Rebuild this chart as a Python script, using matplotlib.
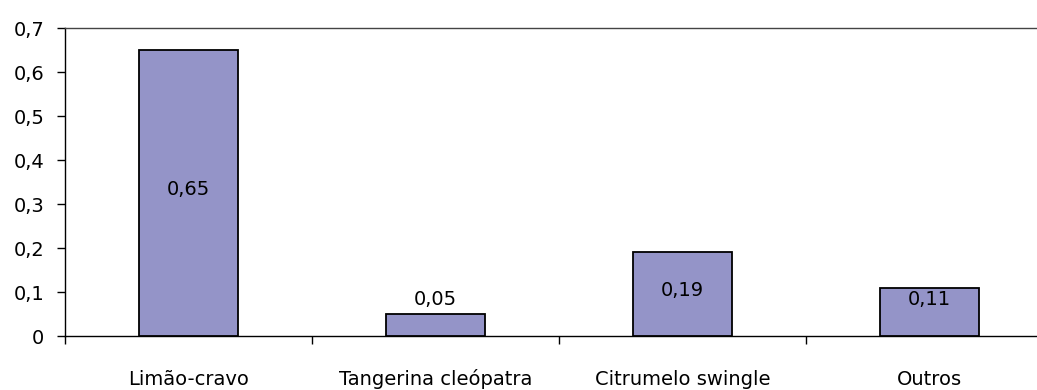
import matplotlib
matplotlib.use("Agg")
import matplotlib.pyplot as plt
from matplotlib.ticker import FixedLocator, FuncFormatter

categories = ["Limão-cravo", "Tangerina cleópatra", "Citrumelo swingle", "Outros"]
values = [0.65, 0.05, 0.19, 0.11]
yticks = [0, 0.1, 0.2, 0.3, 0.4, 0.5, 0.6, 0.7]

BARCOL = "#9494c8"
FS = 14

fig = plt.figure(figsize=(10.37, 3.9), dpi=100)
# plot area runs a bit past the right edge of the picture, like the original
ax = fig.add_axes([65/1037, 1-336/390, 988/1037, 308/390])

pos = [i + 0.5 for i in range(len(categories))]
ax.bar(pos, values, width=0.4, color=BARCOL, edgecolor="black", linewidth=1.3, zorder=3)

# value labels, in the bar middle, lifted a bit when the bar is short
for x, v in zip(pos, values):
    ly = max(v/2 + 0.008, 0.084)
    ax.text(x, ly, f"{v:.2f}".replace(".", ","), ha="center", va="center", fontsize=FS)

ax.set_xlim(0, len(categories))
ax.set_ylim(0, 0.7)
ax.set_yticks(yticks)
ax.yaxis.set_major_formatter(FuncFormatter(lambda v, p: "0" if v == 0 else f"{v:.1f}".replace(".", ",")))

# ticks at category borders, labels at category centres
ax.xaxis.set_major_locator(FixedLocator(range(len(categories) + 1)))
ax.xaxis.set_major_formatter(FuncFormatter(lambda v, p: ""))
ax.xaxis.set_minor_locator(FixedLocator(pos))
ax.set_xticklabels(categories, minor=True, va="baseline")
ax.tick_params(axis="x", which="major", direction="out", length=6, width=1)
ax.tick_params(axis="x", which="minor", length=0, pad=35, labelsize=FS)
ax.tick_params(axis="y", direction="out", length=6, width=1, pad=9, labelsize=FS)

for s in ["left", "bottom", "top"]:
    ax.spines[s].set_linewidth(1)
    ax.spines[s].set_color("black")
ax.spines["top"].set_color("#444444")
ax.spines["right"].set_visible(False)

plt.savefig("out.png", dpi=100)
